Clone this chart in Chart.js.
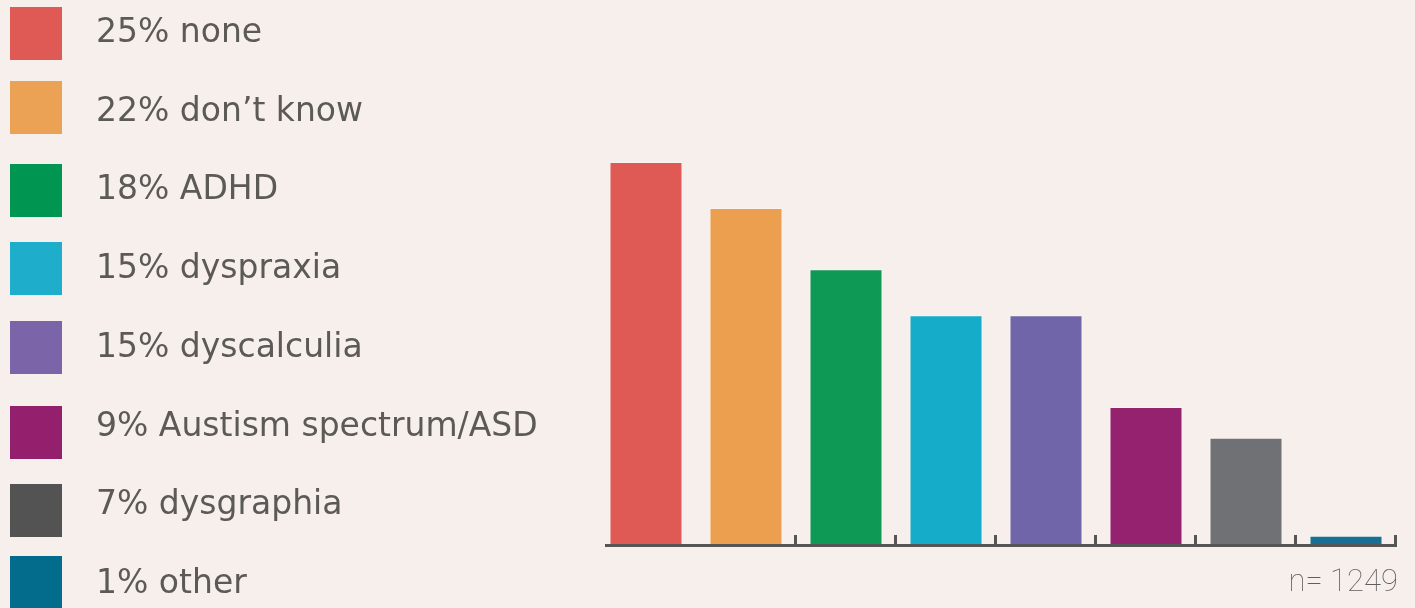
<!DOCTYPE html>
<html>
<head>
<meta charset="utf-8">
<script src="https://cdn.jsdelivr.net/npm/chart.js@4.4.1/dist/chart.umd.min.js"></script>
<style>
  html, body { margin: 0; padding: 0; }
  body {
    width: 1415px;
    height: 608px;
    background: #f7efec;
    position: relative;
    overflow: hidden;
    font-family: "DejaVu Sans", sans-serif;
  }
  #chartWrap { position: absolute; left: 0; top: 0; width: 1415px; height: 608px; }
  .key { position: absolute; left: 10px; width: 52px; height: 53px; }
  .key-txt {
    position: absolute;
    left: 96px;
    line-height: 53px;
    font-size: 33px;
    color: #5b5a57;
    white-space: nowrap;
  }
  #sample {
    position: absolute;
    right: 17px;
    top: 562px;
    font-family: Roboto, sans-serif;
    font-weight: 100;
    font-size: 31px;
    color: #5e5e5e;
  }
</style>
</head>
<body>
<div id="chartWrap"><canvas id="needsChart"></canvas></div>
<div id="legend"></div>
<div id="sample"></div>
<script>
  // data
  const categories = ["none", "don\u2019t know", "ADHD", "dyspraxia", "dyscalculia",
    "Austism spectrum/ASD", "dysgraphia", "other"];
  const percentLabels = ["25%", "22%", "18%", "15%", "15%", "9%", "7%", "1%"];
  const shares = [25, 22, 18, 15, 15, 9, 7, 0.6];
  const sampleSize = 1249;

  // colours (bars and legend keys are slightly different in the original)
  const barColors = ["#e05a55", "#eca04f", "#0e9a55", "#15acca", "#7165aa",
    "#95226f", "#707174", "#176f94"];
  const keyColors = ["#e05a55", "#eca254", "#009652", "#1fadcc", "#7c64a9",
    "#941f6c", "#535353", "#036b8c"];
  // the key squares are not evenly spaced in the original, the texts are
  const keyTops = [7, 81, 164, 242, 321, 406, 484, 556];
  const textStep = 78.7;

  // html legend on the left
  const legendEl = document.getElementById("legend");
  categories.forEach((cat, i) => {
    const box = document.createElement("div");
    box.className = "key";
    box.style.top = keyTops[i] + "px";
    box.style.background = keyColors[i];
    legendEl.appendChild(box);

    const txt = document.createElement("div");
    txt.className = "key-txt";
    txt.style.top = (4 + textStep * i) + "px";
    txt.textContent = percentLabels[i] + " " + cat;
    legendEl.appendChild(txt);
  });
  document.getElementById("sample").textContent = "n= " + sampleSize;

  // baseline + little upward ticks between the bars
  const axisTicks = {
    id: "axisTicks",
    afterDraw(chart) {
      const x = chart.scales.x;
      const ctx = chart.ctx;
      const bottom = chart.chartArea.bottom;
      ctx.save();
      ctx.strokeStyle = "#555555";
      ctx.lineWidth = 3;
      ctx.beginPath();
      ctx.moveTo(x.getPixelForValue(-0.41), bottom + 0.5);
      ctx.lineTo(x.getPixelForValue(categories.length - 0.5) + 1, bottom + 0.5);
      ctx.stroke();
      for (let i = 2; i <= categories.length; i++) {
        const px = Math.round(x.getPixelForValue(i - 0.5)) - 0.5;
        ctx.beginPath();
        ctx.moveTo(px, bottom);
        ctx.lineTo(px, bottom - 10);
        ctx.stroke();
      }
      ctx.restore();
    },
  };

  const ctx = document.getElementById("needsChart").getContext("2d");
  const needsChart = new Chart(ctx, {
    type: "bar",
    data: {
      labels: categories,
      datasets: [
        {
          data: shares,
          backgroundColor: barColors,
          borderColor: "rgba(255,255,255,0.25)",
          borderWidth: { top: 1, left: 1, right: 1, bottom: 0 },
          borderSkipped: false,
          categoryPercentage: 1,
          barPercentage: 0.73,
        },
      ],
    },
    options: {
      responsive: true,
      maintainAspectRatio: false,
      animation: false,
      layout: { padding: { left: 596, right: 19, top: 162, bottom: 63 } },
      plugins: {
        legend: { display: false },
        tooltip: { enabled: false },
      },
      scales: {
        x: {
          display: false,
          offset: true,
        },
        y: {
          display: false,
          min: 0,
          max: 25,
        },
      },
    },
    plugins: [axisTicks],
  });
</script>
</body>
</html>
